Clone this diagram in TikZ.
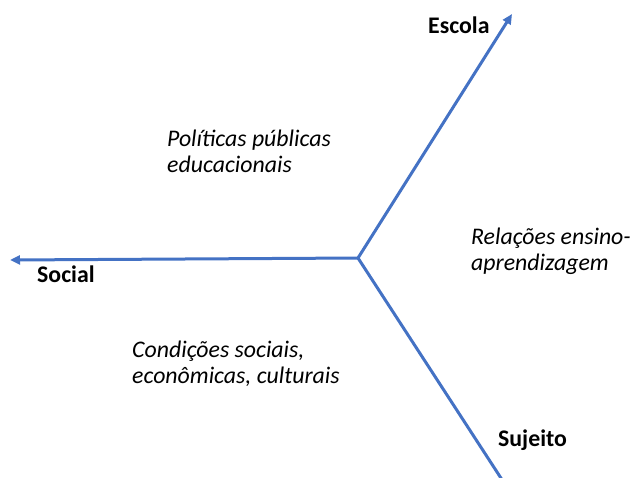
\documentclass[tikz,border=0pt]{standalone}
\usepackage{fontspec}
\setmainfont{Carlito}
\usetikzlibrary{arrows.meta}

\definecolor{axisblue}{HTML}{4472C4}

\begin{document}
\begin{tikzpicture}[x=1pt,y=-1pt,
  axis/.style={axisblue,line width=3pt,-{Triangle[length=10pt,width=9pt]}},
  pole/.style={font=\fontsize{23.8}{26}\selectfont\bfseries,inner sep=0pt,anchor=base west},
  field/.style={font=\fontsize{23.8}{26}\selectfont\itshape,inner sep=0pt,anchor=base west,align=left}]
\useasboundingbox (0,0) rectangle (631,477);
\clip (0,0) rectangle (631,477);

% axes
\coordinate (o) at (358,258);
\coordinate (escola) at (512,14);
\coordinate (social) at (10,260);
\coordinate (sujeito) at (510,492);
\draw[axis] (o) -- (escola);
\draw[axis] (o) -- (social);
\draw[axis] (o) -- (sujeito);

% poles
\node[pole] (escolalabel) at (428,33) {Escola};
\node[pole] (sociallabel) at (37,282) {Social};
\node[pole] (sujeitolabel) at (498,446) {Sujeito};

% fields (anchored at the baseline of the last line)
\node[field] (politicas) at (167,172) {Políticas públicas\\educacionais};
\node[field] (relacoes) at (471,270) {Relações ensino-\\aprendizagem};
\node[field] (condicoes) at (132,383) {Condições sociais,\\econômicas, culturais};
\end{tikzpicture}
\end{document}
